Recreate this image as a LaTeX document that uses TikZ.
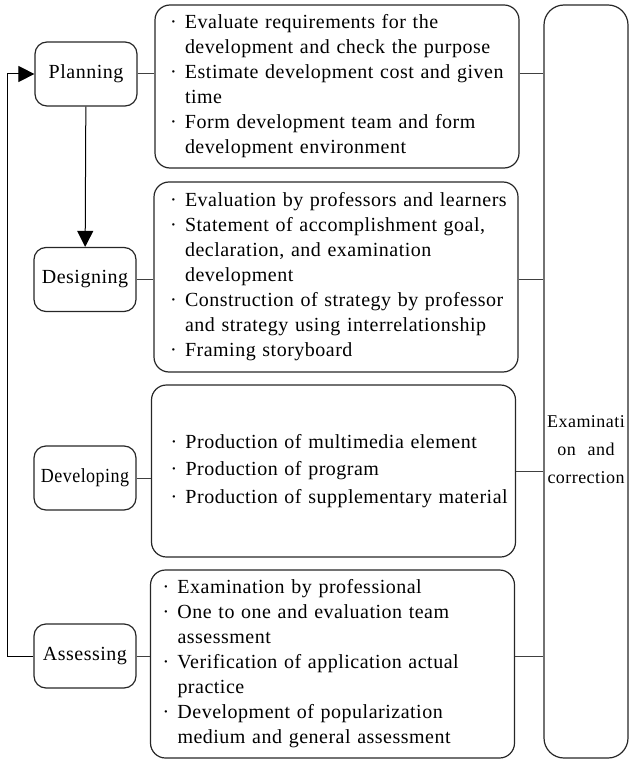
\documentclass[tikz,border=0pt]{standalone}
\usepackage{fontspec}
\setmainfont{Liberation Serif}[WordSpace=2.4,LetterSpace=2.5]
\usetikzlibrary{arrows.meta,positioning,calc}

\newlength{\bsh}
\newcommand{\bul}[1]{\mbox{\hspace*{\bsh}\makebox[7.5pt][l]{·}#1}}
\newcommand{\ind}[1]{\mbox{\hspace*{\bsh}\hspace*{7.5pt}#1}}

\begin{document}
\begin{tikzpicture}[x=0.5pt,y=-0.5pt,
    stage/.style={draw=black!85, line width=0.6pt, rounded corners=6pt, minimum width=51pt, minimum height=32pt, inner sep=0pt, font=\fontsize{10}{12}\selectfont},
    desc/.style={draw=black!85, line width=0.6pt, rounded corners=7.5pt, text width=182pt, inner xsep=0pt, align=left},
    conn/.style={draw=black!75, line width=0.5pt},
    flow/.style={draw=black, line width=0.5pt, -{Triangle[length=8pt,width=8pt]}}]
    \useasboundingbox (0,0) rectangle (629,759);
    % stages
    \node[stage] (plan) at (86,74) {Planning};
    \node[stage] (des) at (85,279.5) {Designing};
    \node[stage] (dev) at (85,478) {\scalebox{0.9}[1]{Developing}};
    \node[stage] (ass) at (85,656) {Assessing};
    % descriptions
    \node[desc, minimum height=81.5pt, font=\fontsize{10}{12.5}\selectfont\setlength{\bsh}{7.5pt}] (d1) at (337,86.5) {\bul{Evaluate requirements for the}\\
        \ind{development and check the purpose}\\
        \bul{Estimate development cost and given}\\
        \ind{time}\\
        \bul{Form development team and form}\\
        \ind{development environment}};
    \node[desc, minimum height=95pt, font=\fontsize{10}{12.5}\selectfont\setlength{\bsh}{8pt}] (d2) at (336,277) {\bul{Evaluation by professors and learners}\\
        \bul{Statement of accomplishment goal,}\\
        \ind{declaration, and examination}\\
        \ind{development}\\
        \bul{Construction of strategy by professor}\\
        \ind{and strategy using interrelationship}\\
        \bul{Framing storyboard}};
    \node[desc, minimum height=86pt, font=\fontsize{10}{13.75}\selectfont\setlength{\bsh}{9.5pt}] (d3) at (333.5,471) {\bul{Production of multimedia element}\\
        \bul{Production of program}\\
        \bul{Production of supplementary material}};
    \node[desc, minimum height=94pt, font=\fontsize{10}{12.5}\selectfont\setlength{\bsh}{6pt}] (d4) at (332.5,664) {\bul{Examination by professional}\\
        \bul{One to one and evaluation team}\\
        \ind{assessment}\\
        \bul{Verification of application actual}\\
        \ind{practice}\\
        \bul{Development of popularization}\\
        \ind{medium and general assessment}};
    % check box
    \node[draw=black!85, line width=0.6pt, rounded corners=10pt, minimum width=42pt, minimum height=376.5pt] (check) at (586,381.5) {};
    \node[align=center, font=\fontsize{9}{14}\selectfont] (checktxt) at (586,450) {Examinati\\on and\\correction};
    % connectors
    \draw[conn] (plan) -- (plan -| d1.west);
    \draw[conn] (des) -- (des -| d2.west);
    \draw[conn] (dev) -- (dev -| d3.west);
    \draw[conn] (ass) -- (ass -| d4.west);
    \draw[conn] (plan -| d1.east) -- (plan -| check.west);
    \draw[conn] (des -| d2.east) -- (des -| check.west);
    \draw[conn] (d3.east) -- (d3.east -| check.west);
    \draw[conn] (ass -| d4.east) -- (ass -| check.west);
    \draw[flow] (plan) -- (des);
    \coordinate (back) at (7,656);
    \draw[flow] (ass.west) -- (back) |- (plan.west);
\end{tikzpicture}
\end{document}
